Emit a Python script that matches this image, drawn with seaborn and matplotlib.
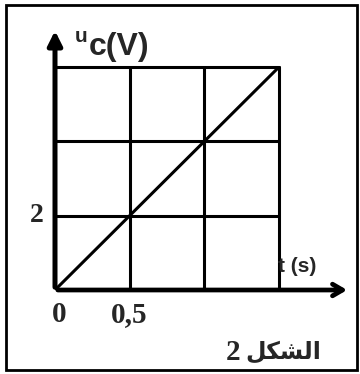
import pandas as pd
import seaborn as sns
import matplotlib.pyplot as plt
from matplotlib.patches import Rectangle

# data
t_s = [0, 1.5]
uc_v = [0, 6]
x_grid = [0.5, 1.0, 1.5]
y_grid = [2, 4, 6]
x_ticks = [0, 0.5]
x_tick_labels = ['0', '0,5']
y_ticks = [2]
y_tick_labels = ['2']
caption = '\uFEDE\uFEDC\uFEB8\uFEDF\uFE8D'  # الشكل (shaped forms, visual order)

sns.set_theme(style='white')
plt.rcParams['font.family'] = ['Liberation Sans', 'DejaVu Sans']

fig = plt.figure(figsize=(3.6, 3.74), dpi=100)
fig.patches.append(Rectangle((6/360, 4/374), 351/360, 365/374, transform=fig.transFigure,
                             fill=False, edgecolor='black', lw=2))

ax = fig.add_axes([55/360, 84/374, 224/360, 223/374])
df = pd.DataFrame({'t': t_s, 'uc': uc_v})
sns.lineplot(data=df, x='t', y='uc', color='black', lw=2.2, ax=ax)
for x in x_grid:
    ax.axvline(x, color='black', lw=2.2, clip_on=False)
for y in y_grid:
    ax.axhline(y, color='black', lw=2.2, clip_on=False)
ax.set_xlim(0, 1.5)
ax.set_ylim(0, 6)
ax.set_axis_off()

# axes with arrows
ax.annotate('', xy=(1.975, 0), xytext=(0, 0), annotation_clip=False,
            arrowprops=dict(arrowstyle='->,head_length=0.6,head_width=0.35', color='black', lw=3.4))
ax.annotate('', xy=(0, 7.05), xytext=(0, 0), annotation_clip=False,
            arrowprops=dict(arrowstyle='-|>,head_length=0.7,head_width=0.35', color='black', lw=3.6))

serif = ['Liberation Serif', 'DejaVu Serif']
ax.text(0.03, -0.67, x_tick_labels[0], fontsize=21, fontweight='bold', family=serif,
        ha='center', va='center')
ax.text(x_ticks[1], -0.67, x_tick_labels[1], fontsize=21, fontweight='bold', family=serif,
        ha='center', va='center')
ax.text(-0.12, y_ticks[0], y_tick_labels[0], fontsize=20, fontweight='bold', family=serif,
        ha='center', va='center')

ax.text(1.49, 0.62, 't (s)', fontsize=15, fontweight='bold', ha='left', va='center')
ax.text(0.13, 6.83, 'u', fontsize=15, fontweight='bold', ha='left', va='center')
ax.text(0.225, 6.55, 'c(V)', fontsize=23, fontweight='bold', ha='left', va='center')

ax.text(1.19, -1.67, '2', fontsize=21, fontweight='bold', family=serif, ha='center', va='center')
ax.text(1.53, -1.67, caption, fontsize=17, fontweight='bold', ha='center', va='center',
        family=['DejaVu Sans'])

fig.savefig('out.png', dpi=100, facecolor='white')
